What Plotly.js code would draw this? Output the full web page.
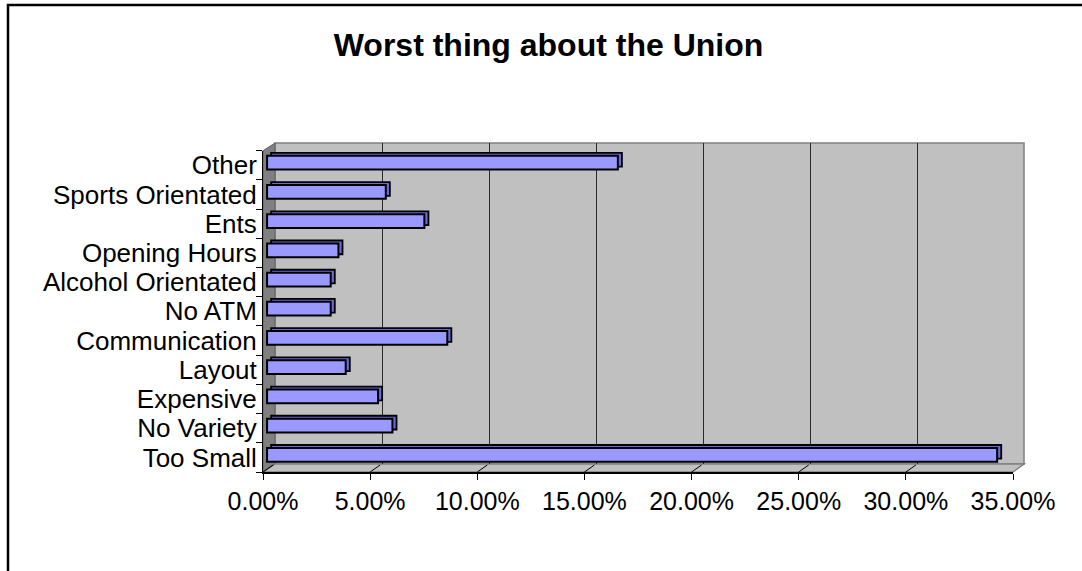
<!DOCTYPE html>
<html>
<head>
<meta charset="utf-8">
<script src="https://cdn.plot.ly/plotly-3.0.1.min.js"></script>
<style>html,body{margin:0;padding:0;background:#fff;}#chart{width:1082px;height:571px;}</style>
</head>
<body>
<div id="chart"></div>
<script>
// ---- data ----
const categories = ["Too Small","No Variety","Expensive","Layout","Communication","No ATM","Alcohol Orientated","Opening Hours","Ents","Sports Orientated","Other"];
const shares = [0.3407,0.0585,0.0518,0.0367,0.0841,0.0297,0.0297,0.0333,0.0734,0.0554,0.1637];
const tickValues = [0,0.05,0.10,0.15,0.20,0.25,0.30,0.35];
const gridValues = [0.05,0.10,0.15,0.20,0.25,0.30];
const chartTitle = "Worst thing about the Union";

// ---- layout helpers (pixel -> paper) ----
const W = 1082, H = 571;
const fx = p => p / W;
const fy = p => 1 - p / H;
const FONT = "Liberation Sans, Arial, sans-serif";

const front = { x0: 263, x1: 1013, yTop: 150.7, yBot: 472 };
const back  = { x0: 275, x1: 1024, yTop: 143, yBot: 464 };
const barShift = 0.0019; // bar plane sits a few px behind the front edge

const traces = [
  { // invisible carrier so the back-wall grid subplot is drawn
    type: "scatter", mode: "none", x: gridValues, y: gridValues.map(() => null),
    xaxis: "x", yaxis: "y", hoverinfo: "skip", showlegend: false
  },
  { // side/top face of the 3D bars
    type: "bar", orientation: "h", x: shares, y: categories,
    base: 2 * barShift, width: 0.47, offset: -0.045,
    xaxis: "x2", yaxis: "y2",
    marker: { color: "#6a6ad8", line: { color: "#000", width: 1.8 } },
    hoverinfo: "skip", showlegend: false
  },
  { // front face
    type: "bar", orientation: "h", x: shares, y: categories,
    base: barShift, width: 0.47, offset: -0.145,
    xaxis: "x2", yaxis: "y2",
    marker: { color: "#9999ff", line: { color: "#000", width: 2 } },
    hovertemplate: "%{y}: %{x:.2%}<extra></extra>", showlegend: false
  }
];

const shapes = [];
// outer frame
shapes.push({ type: "rect", xref: "paper", yref: "paper", x0: fx(8), x1: 1.2, y0: fy(5), y1: -0.2,
  line: { color: "#000", width: 2.5 }, fillcolor: "rgba(0,0,0,0)", layer: "below" });
// back wall
shapes.push({ type: "rect", xref: "paper", yref: "paper", x0: fx(back.x0), x1: fx(back.x1), y0: fy(back.yBot), y1: fy(back.yTop),
  line: { color: "#808080", width: 1.5 }, fillcolor: "#c0c0c0", layer: "below" });
// floor
shapes.push({ type: "path", xref: "paper", yref: "paper",
  path: `M ${fx(front.x0)} ${fy(front.yBot)} L ${fx(front.x1)} ${fy(front.yBot)} L ${fx(back.x1)} ${fy(back.yBot)} L ${fx(back.x0)} ${fy(back.yBot)} Z`,
  line: { color: "#808080", width: 1.5 }, fillcolor: "#c0c0c0", layer: "below" });
// left side wall
shapes.push({ type: "path", xref: "paper", yref: "paper",
  path: `M ${fx(front.x0)} ${fy(front.yTop)} L ${fx(back.x0)} ${fy(back.yTop)} L ${fx(back.x0)} ${fy(back.yBot)} L ${fx(front.x0)} ${fy(front.yBot)} Z`,
  line: { color: "#606060", width: 1 }, fillcolor: "#808080", layer: "below" });
// slanted tick marks on the floor
tickValues.forEach(v => {
  shapes.push({ type: "line", xref: "x2", yref: "paper", xsizemode: "pixel", xanchor: v, x0: 0, x1: 10,
    y0: fy(front.yBot), y1: fy(front.yBot - 7), line: { color: "#000", width: 1 } });
});

const layout = {
  width: W, height: H,
  margin: { l: 0, r: 0, t: 0, b: 0, pad: 0 },
  paper_bgcolor: "#ffffff", plot_bgcolor: "rgba(0,0,0,0)",
  barmode: "overlay",
  showlegend: false,
  font: { family: FONT, color: "#000" },
  title: { text: "<b>" + chartTitle + "</b>", font: { family: FONT, size: 32, color: "#000" },
    x: fx(548.5), xanchor: "center", xref: "paper", y: 1 - 45 / H, yanchor: "middle", yref: "container" },
  // back wall gridlines
  xaxis: { domain: [fx(back.x0), fx(back.x1)], range: [0, 0.35], anchor: "y",
    tickmode: "array", tickvals: gridValues, showticklabels: false, ticks: "",
    showgrid: true, gridcolor: "#2a2a2a", gridwidth: 1, zeroline: false, showline: false, fixedrange: true },
  yaxis: { domain: [fy(back.yBot), fy(back.yTop)], range: [0, 1], anchor: "x",
    showgrid: false, showticklabels: false, ticks: "", zeroline: false, showline: false, fixedrange: true },
  // front axes with labels, bars
  xaxis2: { domain: [fx(front.x0), fx(front.x1)], range: [0, 0.35], anchor: "y2",
    tickmode: "array", tickvals: tickValues, tickformat: ".2%",
    ticks: "outside", ticklen: 6, tickwidth: 1, tickcolor: "#000", ticklabelstandoff: 0,
    tickfont: { family: FONT, size: 25, color: "#000" },
    showline: true, linecolor: "#000", linewidth: 2, showgrid: false, zeroline: false, fixedrange: true },
  yaxis2: { domain: [fy(front.yBot), fy(front.yTop)], type: "category", categoryorder: "array", categoryarray: categories,
    tickmode: "array", tickvals: categories, ticktext: categories,
    range: [-0.5, categories.length - 0.5], anchor: "x2",
    ticks: "outside", tickson: "boundaries", ticklen: 6, tickwidth: 1, tickcolor: "#000",
    tickfont: { family: FONT, size: 26, color: "#000" },
    showline: true, linecolor: "#000", linewidth: 1, showgrid: false, zeroline: false, fixedrange: true },
  shapes: shapes
};

Plotly.newPlot("chart", traces, layout, { displayModeBar: false, staticPlot: true });
</script>
</body>
</html>
